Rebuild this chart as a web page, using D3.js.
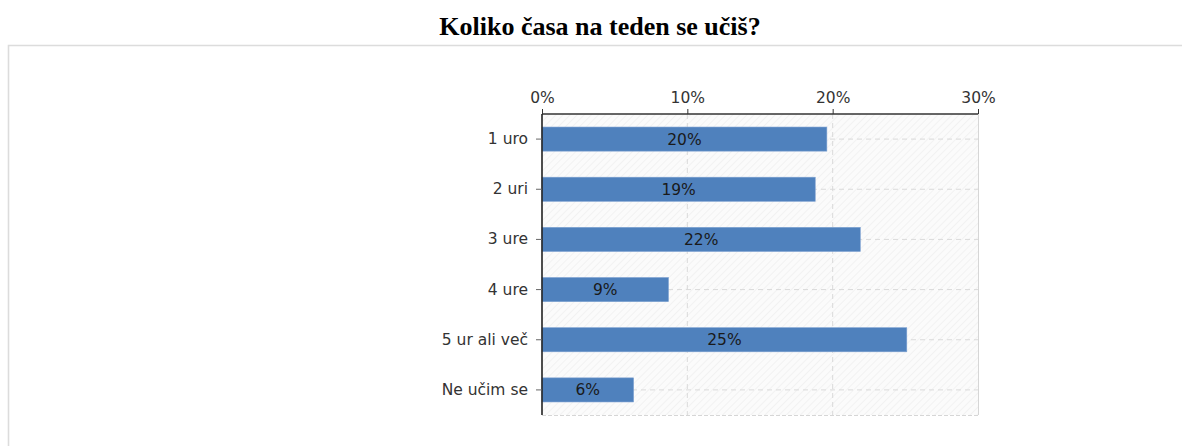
<!DOCTYPE html>
<html>
<head>
<meta charset="utf-8">
<script src="https://cdn.jsdelivr.net/npm/d3@7"></script>
<style>
  body { margin: 0; background: #fff; }
</style>
</head>
<body>
<div class="chart"></div>
<script>
// data
const categories = ["1 uro", "2 uri", "3 ure", "4 ure", "5 ur ali več", "Ne učim se"];
const values = [19.6, 18.8, 21.9, 8.7, 25.1, 6.3];
const tickValues = [0, 10, 20, 30];
const title = "Koliko časa na teden se učiš?";

const W = 1182, H = 446;
const margin = {top: 114, left: 542, right: 204, bottom: 31};
const width = W - margin.left - margin.right,
      height = H - margin.top - margin.bottom;
const font = "'DejaVu Sans', Verdana, sans-serif";

const root = d3.select(".chart").append("svg")
    .attr("width", W).attr("height", H);

// hatch for plot background
const defs = root.append("defs");
const pat = defs.append("pattern").attr("id", "hatch")
    .attr("patternUnits", "userSpaceOnUse")
    .attr("width", 5).attr("height", 5)
    .attr("patternTransform", "rotate(45)");
pat.append("rect").attr("width", 5).attr("height", 5).attr("fill", "#fbfbfb");
pat.append("line").attr("x1", 0).attr("y1", 0).attr("x2", 0).attr("y2", 5)
    .attr("stroke", "#ececec").attr("stroke-width", 1.2);

// title and outer frame
root.append("text").attr("x", 600).attr("y", 35)
    .attr("text-anchor", "middle")
    .style("font-family", "'Liberation Serif', 'Times New Roman', serif")
    .style("font-weight", "bold").style("font-size", "26px")
    .text(title);

root.append("path")
    .attr("d", `M8.5,${H + 5}V45.5H${W + 5}`)
    .attr("fill", "none").attr("stroke", "#dcdcdc").attr("stroke-width", 1.6);

const svg = root.append("g").attr("transform", `translate(${margin.left},${margin.top})`);

const x = d3.scaleLinear().domain([0, 30]).range([0, width]);
const y = d3.scaleBand().domain(categories).range([0, height]).paddingInner(0.52).paddingOuter(0.26);

svg.append("rect").attr("width", width).attr("height", height).attr("fill", "url(#hatch)");

// grid
svg.selectAll(".vgrid").data(tickValues.slice(1, -1)).join("line")
    .attr("x1", d => x(d)).attr("x2", d => x(d))
    .attr("y1", 0).attr("y2", height)
    .attr("stroke", "#dadada").attr("stroke-dasharray", "5,4");
svg.selectAll(".hgrid").data(categories).join("line")
    .attr("x1", 0).attr("x2", width)
    .attr("y1", d => y(d) + y.bandwidth() / 2).attr("y2", d => y(d) + y.bandwidth() / 2)
    .attr("stroke", "#dadada").attr("stroke-dasharray", "5,4");
svg.append("line").attr("x1", 0).attr("x2", width).attr("y1", height + 0.5).attr("y2", height + 0.5)
    .attr("stroke", "#d6d6d6").attr("stroke-dasharray", "4,2");
svg.append("line").attr("x1", width + 0.5).attr("x2", width + 0.5).attr("y1", 0).attr("y2", height)
    .attr("stroke", "#d6d6d6");

// bars
svg.selectAll(".bar").data(values).join("rect")
    .attr("x", 0)
    .attr("y", (d, i) => y(categories[i]))
    .attr("width", d => x(d))
    .attr("height", y.bandwidth())
    .attr("fill", "#4f81bd")
    .attr("stroke", "#7a9fd0").attr("stroke-width", 0.6);

svg.selectAll(".lbl").data(values).join("text")
    .attr("x", d => x(d) / 2)
    .attr("y", (d, i) => y(categories[i]) + y.bandwidth() / 2)
    .attr("dy", "0.36em")
    .attr("text-anchor", "middle")
    .style("font-family", font)
    .style("font-size", "15.5px").attr("fill", "#1a1a1a")
    .text(d => Math.round(d) + "%");

// axes
const xAxis = svg.append("g")
    .call(d3.axisTop(x).tickValues(tickValues).tickFormat(d => d + "%").tickSize(5).tickPadding(6));
xAxis.select(".domain").attr("stroke", "#333").attr("stroke-width", 1.6).attr("d", `M0,0H${width}`);
xAxis.selectAll(".tick line").attr("stroke", "#333");
xAxis.selectAll("text")
    .style("font-family", font)
    .style("font-size", "15.5px").attr("fill", "#333");

const yAxis = svg.append("g")
    .call(d3.axisLeft(y).tickSize(6).tickPadding(8));
yAxis.select(".domain").attr("stroke", "#222").attr("stroke-width", 1.6).attr("d", `M0,0V${height}`);
yAxis.selectAll(".tick line").attr("stroke", "#666");
yAxis.selectAll("text")
    .style("font-family", font)
    .style("font-size", "15.5px").attr("fill", "#333");
</script>
</body>
</html>
